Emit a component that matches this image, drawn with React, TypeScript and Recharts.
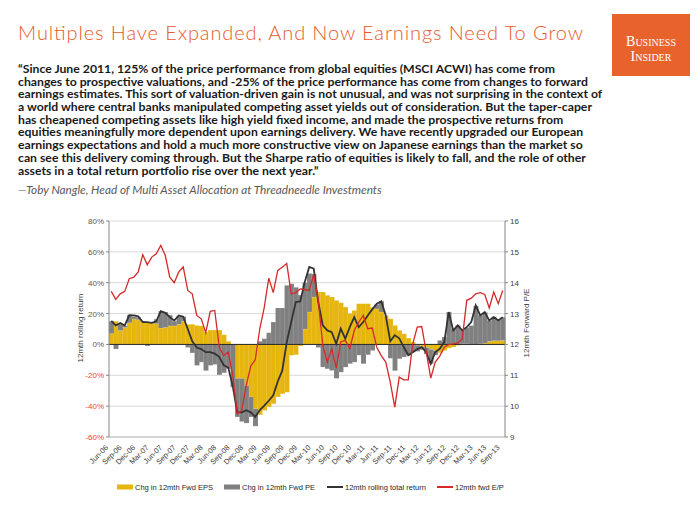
import React from 'react';
import { ComposedChart, Bar, Line, XAxis, YAxis, CartesianGrid, ReferenceLine } from 'recharts';

const months = [
  'Jun-06','Jul-06','Aug-06','Sep-06','Oct-06','Nov-06','Dec-06',
  'Jan-07','Feb-07','Mar-07','Apr-07','May-07','Jun-07','Jul-07','Aug-07','Sep-07','Oct-07','Nov-07','Dec-07',
  'Jan-08','Feb-08','Mar-08','Apr-08','May-08','Jun-08','Jul-08','Aug-08','Sep-08','Oct-08','Nov-08','Dec-08',
  'Jan-09','Feb-09','Mar-09','Apr-09','May-09','Jun-09','Jul-09','Aug-09','Sep-09','Oct-09','Nov-09','Dec-09',
  'Jan-10','Feb-10','Mar-10','Apr-10','May-10','Jun-10','Jul-10','Aug-10','Sep-10','Oct-10','Nov-10','Dec-10',
  'Jan-11','Feb-11','Mar-11','Apr-11','May-11','Jun-11','Jul-11','Aug-11','Sep-11','Oct-11','Nov-11','Dec-11',
  'Jan-12','Feb-12','Mar-12','Apr-12','May-12','Jun-12','Jul-12','Aug-12','Sep-12','Oct-12','Nov-12','Dec-12',
  'Jan-13','Feb-13','Mar-13','Apr-13','May-13','Jun-13','Jul-13','Aug-13','Sep-13',
];

// Chg in 12mth Fwd EPS (%)
const epsChange = [
  7, 15, 9, 11, 14, 16.5, 16, 14.5, 14.5, 14, 13.4, 10.6, 11, 12, 12, 13, 15, 13, 13, 12.3,
  12, 8, 9.3, 9.3, 9.3, 6.3, 2, 0, -22, -22, -26.6, -34, -41.7, -45.6, -42.8, -40.6, -38.5, -34, -32, -31,
  -7.1, -6.7, -1, 10, 21, 30.7, 34, 34, 31.8, 30.7, 28.5, 27, 24.2, 20, 22, 26.4, 26.4, 26.4, 24, 23,
  21, 18.8, 16.6, 12.3, 9.1, 6.9, 4.1, 1.5, -0.5, -1.5, -2, -3.2, -4, -5.4, -4, -2.4, -1.7, -0.6, 0.4, 0.4,
  0.2, 0, 0.4, 0.8, 2, 2.4, 2.4, 2.6,
];

// Chg in 12mth Fwd PE (%)
const peChange = [
  8, -3, 4, 1, 5, 1.5, 1.5, 0.5, -1, 0.5, 3, 11, 10, 7, 3, 5.5, 3, -2, -5.5, -13.6,
  -11.5, -17, -13.6, -13, -19.7, -18.4, -15.8, -27.7, -25, -28, -24.4, -13, -11.3, 2, 3.7, 7.6, 14.5, 23.6, 23.6, 38.3,
  39.3, 37, 32, 30, 25, 15, -2, -14.7, -15.8, -16.9, -22, -18, -14.7, -12.5, -11.5, -7, -12.5, -6.7, -4, 3,
  7, 0, -9, -17, -9.3, -8.2, -7.1, -5, -4, -2, -4.3, -9.3, -3, 2.6, 4.8, 21, 10, 12.3, 9, 10.5,
  12, 25, 18.5, 20, 13.5, 15.5, 13.5, 15,
];

// 12mth rolling total return (%)
const totalReturn = [
  15.3, 12.3, 13.8, 12.3, 19, 18.8, 18.2, 14.5, 14.5, 14, 15, 21.6, 20.5, 17.7, 15.5, 18.8, 18, 10, 2, -2,
  -3, -5, -5, -6, -8, -13.5, -15, -27, -44, -44, -42.6, -44, -47, -42.6, -39.7, -36.5, -33, -24, -17, 1.5,
  14.5, 27.5, 27.9, 40.4, 50.2, 49.1, 27.5, 12.3, 9.1, 8, 0.4, 10.2, 3.7, 11.2, 17.7, 11.2, 14.5, 18.8, 22.7, 26.4,
  27.9, 18.8, 2, 6, 4, -1.7, -7, -5, -3, -1.7, -5, -12.5, -5, -2.8, 1.5, 21, 9.1, 12.3, 9.1, 11.2,
  14.5, 25.3, 18.8, 21, 15.6, 17.7, 15.6, 17.7,
];

// 12mth fwd E/P (plotted on the right axis)
const fwdEP = [
  13.72, 13.46, 13.64, 13.72, 14.13, 14.18, 14.35, 14.91, 14.58, 14.83, 14.94, 15.21, 14.89, 14.18, 14.0, 14.35, 14.51, 13.75, 13.64, 12.94,
  12.83, 12.38, 13.07, 13.1, 11.91, 11.64, 11.75, 11.0, 9.75, 9.86, 10.67, 11.3, 11.5, 12.5, 13.2, 14.15, 13.68, 14.4, 14.5, 14.62,
  13.64, 13.68, 13.8, 13.78, 13.75, 14.26, 13.43, 11.97, 11.43, 11.86, 11.23, 12.08, 12.13, 11.86, 12.45, 12.72, 12.94, 12.51, 12.53, 11.91,
  11.64, 11.43, 10.78, 9.97, 10.94, 10.85, 10.85, 12.02, 12.56, 12.58, 11.75, 10.91, 11.43, 11.62, 11.91, 11.99, 12.02, 12.05, 12.18, 13.43,
  13.5, 13.64, 13.68, 13.62, 13.18, 13.7, 13.32, 13.75,
];

const leftTicks = [-60, -40, -20, 0, 20, 40, 60, 80];
const rightTicks = [9, 10, 11, 12, 13, 14, 15, 16];

const titleText = 'Multiples Have Expanded, And Now Earnings Need To Grow';
const quoteLines = [
  '\u201CSince June 2011, 125% of the price performance from global equities (MSCI ACWI) has come from',
  'changes to prospective valuations, and -25% of the price performance has come from changes to forward',
  'earnings estimates. This sort of valuation-driven gain is not unusual, and was not surprising in the context of',
  'a world where central banks manipulated competing asset yields out of consideration. But the taper-caper',
  'has cheapened competing assets like high yield fixed income, and made the prospective returns from',
  'equities meaningfully more dependent upon earnings delivery. We have recently upgraded our European',
  'earnings expectations and hold a much more constructive view on Japanese earnings than the market so',
  'can see this delivery coming through. But the Sharpe ratio of equities is likely to fall, and the role of other',
  'assets in a total return portfolio rise over the next year.\u201D',
];
const attribution = '\u2014Toby Nangle, Head of Multi Asset Allocation at Threadneedle Investments';

const legendItems = [
  { label: 'Chg in 12mth Fwd EPS', kind: 'rect', color: '#E6B60E' },
  { label: 'Chg in 12mth Fwd PE', kind: 'rect', color: '#808080' },
  { label: '12mth rolling total return', kind: 'line', color: '#333333' },
  { label: '12mth fwd E/P', kind: 'line', color: '#D42A2A' },
];

const data = months.map((m, i) => ({
  month: m,
  eps: epsChange[i],
  pe: peChange[i],
  total: totalReturn[i],
  ep: fwdEP[i],
}));

const FONT = '"Liberation Sans", Arial, sans-serif';
const ORANGE = '#E65A2B';

const LeftTick = (props: any) => {
  const { x, y, payload } = props;
  const v = payload.value;
  return (
    <text x={x} y={y} dy={3} textAnchor="end" fontSize={8} fontFamily={FONT} fill={v < 0 ? '#FF3B3B' : '#595959'}>
      {v}%
    </text>
  );
};

const RightTick = (props: any) => {
  const { x, y, payload } = props;
  return (
    <text x={x} y={y} dy={3} textAnchor="start" fontSize={8} fontFamily={FONT} fill="#404040">
      {payload.value}
    </text>
  );
};

const XTick = (props: any) => {
  const { x, payload } = props;
  return (
    <g transform={`translate(${x - 2.5},${448})`}>
      <text textAnchor="end" transform="rotate(-45)" fontSize={7.5} fontFamily={FONT} fill="#404040">
        {payload.value}
      </text>
    </g>
  );
};

const legendX = [117, 224, 327, 437];

export default function App() {
  return (
    <div style={{ position: 'absolute', left: 0, top: 0, width: 700, height: 525, background: '#fff', overflow: 'hidden' }}>
      <ComposedChart
        width={700}
        height={525}
        data={data}
        margin={{ top: 221, right: 0, bottom: 0, left: 0 }}
        stackOffset="sign"
        barCategoryGap={0}
        barGap={0}
      >
        <CartesianGrid yAxisId="left" vertical={false} stroke="#D9D9D9" />
        <XAxis
          dataKey="month"
          interval={2}
          height={88}
          tick={<XTick />}
          tickLine={false}
          axisLine={{ stroke: '#BFBFBF' }}
        />
        <YAxis
          yAxisId="left"
          width={109}
          domain={[-60, 80]}
          ticks={leftTicks}
          tick={<LeftTick />}
          tickSize={3}
          tickMargin={2}
          axisLine={{ stroke: '#868686' }}
          tickLine={{ stroke: '#868686' }}
          allowDataOverflow
        />
        <YAxis
          yAxisId="right"
          orientation="right"
          width={195}
          domain={[9, 16]}
          ticks={rightTicks}
          tick={<RightTick />}
          tickSize={3}
          tickMargin={2}
          axisLine={{ stroke: '#868686' }}
          tickLine={{ stroke: '#868686' }}
          allowDataOverflow
        />
        <Bar yAxisId="left" dataKey="eps" stackId="s" fill="#E6B60E" stroke="#ffffff" strokeOpacity={0.3} strokeWidth={0.4} isAnimationActive={false} />
        <Bar yAxisId="left" dataKey="pe" stackId="s" fill="#808080" stroke="#ffffff" strokeOpacity={0.3} strokeWidth={0.4} isAnimationActive={false} />
        <ReferenceLine yAxisId="left" y={0} stroke="#262626" strokeWidth={1} />
        <Line yAxisId="left" dataKey="total" type="linear" stroke="#333333" strokeWidth={1.8} dot={false} isAnimationActive={false} />
        <Line yAxisId="right" dataKey="ep" type="linear" stroke="#D42A2A" strokeWidth={1.3} dot={false} isAnimationActive={false} />
      </ComposedChart>

      <svg width={700} height={525} style={{ position: 'absolute', left: 0, top: 0, pointerEvents: 'none' }}>
        <text x={18} y={40} fontSize={20} fontWeight={300} fontFamily="Lato, 'Open Sans', sans-serif" fill={ORANGE} textLength={565} lengthAdjust="spacing">
          {titleText}
        </text>

        <rect x={612} y={14} width={78} height={62} fill="#E8622C" />
        <text x={651} y={46} textAnchor="middle" fontSize={14} fontFamily="'Liberation Serif', 'DejaVu Serif', serif" fill="#fff" style={{ fontVariant: 'small-caps' }}>
          Business
        </text>
        <text x={651} y={61} textAnchor="middle" fontSize={14} fontFamily="'Liberation Serif', 'DejaVu Serif', serif" fill="#fff" style={{ fontVariant: 'small-caps' }}>
          Insider
        </text>

        <g transform="translate(18,0) scale(1.115,1)">
          {quoteLines.map((line, i) => (
            <text key={i} x={0} y={73 + i * 12.7} fontSize={11} fontWeight={700} fontFamily="Lato, 'Open Sans', sans-serif" fill="#1A1A1A">
              {line}
            </text>
          ))}
        </g>
        <g transform="translate(18,0) scale(1.07,1)">
          <text x={0} y={194} fontSize={11} fontStyle="italic" fontFamily="Lato, 'Open Sans', sans-serif" fill="#595959">
            {attribution}
          </text>
        </g>

        <text transform="translate(83,328) rotate(-90)" textAnchor="middle" fontSize={8} fontFamily={FONT} fill="#404040">
          12mth rolling return
        </text>
        <text transform="translate(529,323) rotate(-90)" textAnchor="middle" fontSize={8} fontFamily={FONT} fill="#404040">
          12mth Forward P/E
        </text>

        {legendItems.map((it, i) => {
          const lx = legendX[i];
          return (
            <g key={i}>
              {it.kind === 'rect' ? (
                <rect x={lx} y={484.5} width={16} height={5} fill={it.color} />
              ) : (
                <line x1={lx} x2={lx + 16} y1={487} y2={487} stroke={it.color} strokeWidth={2} />
              )}
              <text x={lx + 18} y={490} fontSize={7.5} fontFamily={FONT} fill="#262626">
                {it.label}
              </text>
            </g>
          );
        })}
      </svg>
    </div>
  );
}
